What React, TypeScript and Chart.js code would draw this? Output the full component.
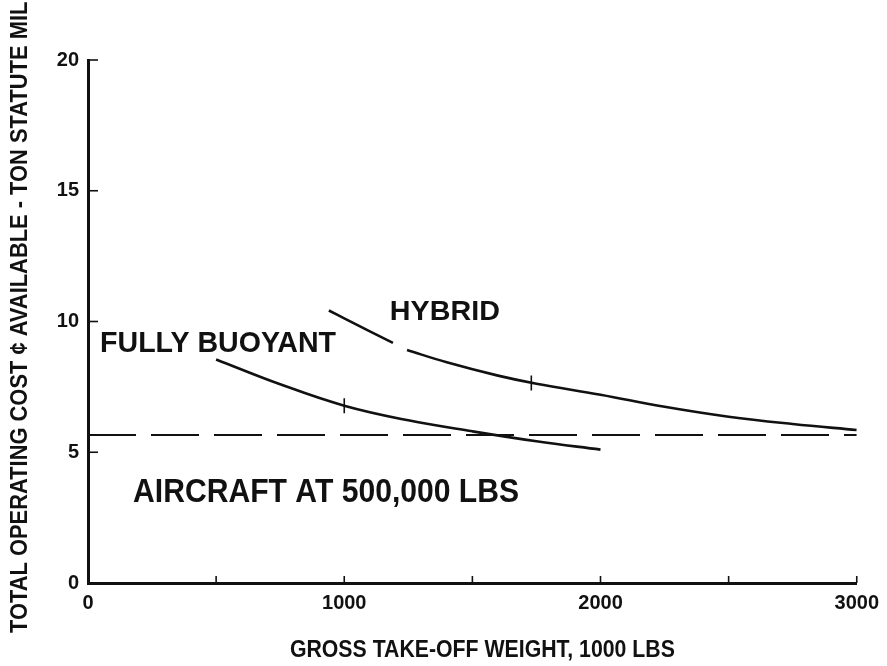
import React, { useEffect, useRef } from 'react';
import { Chart, registerables } from 'chart.js';

Chart.register(...registerables);

// ---- data ----
const weightFullyBuoyant = [500, 750, 1000, 1250, 1500, 1750, 2000];
const costFullyBuoyant = [8.55, 7.6, 6.78, 6.22, 5.8, 5.42, 5.1];

const weightHybrid = [940, 1000, 1100, 1190, 1218, 1245, 1400, 1600, 1750, 2000, 2250, 2500, 2750, 3000];
const costHybrid = [10.42, 10.12, 9.62, 9.18, null, 8.91, 8.44, 7.93, 7.62, 7.2, 6.74, 6.36, 6.08, 5.85];

const weightAircraft = [0, 3000];
const costAircraft = [5.66, 5.66];

const markerWeights = [1000, 1730];
const markerCosts = [6.78, 7.65];

const xMin = 0;
const xMax = 3000;
const xStep = 500;
const xLabelStep = 1000;
const yMin = 0;
const yMax = 20;
const yStep = 5;

const xTitle = 'GROSS TAKE-OFF WEIGHT, 1000 LBS';
const yTitle = 'TOTAL OPERATING COST ¢ AVAILABLE - TON STATUTE MILE';
const labelFullyBuoyant = 'FULLY BUOYANT';
const labelHybrid = 'HYBRID';
const labelAircraft = 'AIRCRAFT AT 500,000 LBS';

// ---- styling ----
const FONT = '"Liberation Sans", Arial, Helvetica, sans-serif';
const INK = '#111111';

const toXY = (xs: number[], ys: (number | null)[]) => xs.map((x, i) => ({ x, y: ys[i] }));

function drawFitted(
  ctx: CanvasRenderingContext2D,
  text: string,
  x: number,
  y: number,
  size: number,
  width: number,
  align: CanvasTextAlign,
  rotate = 0
) {
  ctx.save();
  ctx.font = `bold ${size}px ${FONT}`;
  const w = ctx.measureText(text).width;
  const sx = width / w;
  ctx.translate(x, y);
  if (rotate) ctx.rotate(rotate);
  ctx.scale(sx, 1);
  ctx.textAlign = align;
  ctx.textBaseline = 'alphabetic';
  ctx.fillStyle = INK;
  ctx.fillText(text, 0, 0);
  ctx.restore();
}

const decorPlugin = {
  id: 'decor',
  afterDraw(chart: any) {
    const ctx: CanvasRenderingContext2D = chart.ctx;
    const xs = chart.scales.x;
    const ys = chart.scales.y;
    const area = chart.chartArea;
    ctx.save();
    ctx.strokeStyle = INK;
    ctx.lineWidth = 1.6;
    // inward tick marks on x axis
    for (let v = xMin + xStep; v <= xMax; v += xStep) {
      const px = xs.getPixelForValue(v);
      ctx.beginPath();
      ctx.moveTo(px, area.bottom);
      ctx.lineTo(px, area.bottom - 7);
      ctx.stroke();
    }
    // inward tick marks on y axis
    for (let v = yMin + yStep; v <= yMax; v += yStep) {
      const py = ys.getPixelForValue(v);
      ctx.beginPath();
      ctx.moveTo(area.left, py);
      ctx.lineTo(area.left + 10, py);
      ctx.stroke();
    }
    ctx.restore();

    // curve labels (anchored in data coordinates)
    drawFitted(ctx, labelFullyBuoyant, xs.getPixelForValue(47), ys.getPixelForValue(8.83), 30, 236, 'left');
    drawFitted(ctx, labelHybrid, xs.getPixelForValue(1178), ys.getPixelForValue(10.06), 28, 110, 'left');
    drawFitted(ctx, labelAircraft, xs.getPixelForValue(176), ys.getPixelForValue(3.1), 34, 386, 'left');

    // axis titles
    drawFitted(ctx, xTitle, (area.left + area.right) / 2 + 10, chart.height - 9, 23, 385, 'center');
    drawFitted(ctx, yTitle, 27, chart.height - 33, 23, 646, 'left', -Math.PI / 2);
  },
};

export default function App() {
  const canvasRef = useRef<HTMLCanvasElement | null>(null);

  useEffect(() => {
    document.body.style.margin = '0';
    const canvas = canvasRef.current;
    if (!canvas) return;

    const chart = new Chart(canvas, {
      type: 'line',
      data: {
        datasets: [
          {
            label: 'Fully buoyant',
            data: toXY(weightFullyBuoyant, costFullyBuoyant),
            borderColor: INK,
            borderWidth: 2.6,
            pointRadius: 0,
            tension: 0.4,
            fill: false,
          },
          {
            label: 'Hybrid',
            data: toXY(weightHybrid, costHybrid),
            borderColor: INK,
            borderWidth: 2.6,
            pointRadius: 0,
            tension: 0.4,
            spanGaps: false,
            fill: false,
          },
          {
            label: 'Aircraft at 500,000 lbs',
            data: toXY(weightAircraft, costAircraft),
            borderColor: INK,
            borderWidth: 2,
            borderDash: [48, 15],
            pointRadius: 0,
            fill: false,
          },
          {
            label: 'Markers',
            data: toXY(markerWeights, markerCosts),
            showLine: false,
            pointStyle: 'line',
            rotation: 90,
            pointRadius: 7.5,
            borderColor: INK,
            borderWidth: 1.6,
          },
        ],
      },
      options: {
        animation: false,
        responsive: false,
        layout: { padding: { top: 60, right: 30, left: 0, bottom: 0 } },
        plugins: {
          legend: { display: false },
          tooltip: { enabled: false },
          title: { display: false },
        },
        scales: {
          x: {
            type: 'linear',
            min: xMin,
            max: xMax,
            grid: { display: false, drawTicks: false },
            border: { display: true, color: INK, width: 3 },
            ticks: {
              stepSize: xStep,
              autoSkip: false,
              maxRotation: 0,
              padding: 8,
              color: INK,
              font: { family: FONT, size: 20, weight: 'bold' },
              callback: (v: any) => (Number(v) % xLabelStep === 0 ? String(v) : ''),
            },
            afterFit: (scale: any) => {
              scale.height = 83;
            },
          },
          y: {
            type: 'linear',
            min: yMin,
            max: yMax,
            grid: { display: false, drawTicks: false },
            border: { display: true, color: INK, width: 3 },
            ticks: {
              stepSize: yStep,
              padding: 9,
              color: INK,
              font: { family: FONT, size: 20, weight: 'bold' },
            },
            afterFit: (scale: any) => {
              scale.width = 88;
            },
          },
        },
      },
      plugins: [decorPlugin],
    });

    return () => chart.destroy();
  }, []);

  return (
    <div style={{ width: 887, height: 666, background: '#fff' }}>
      <canvas ref={canvasRef} width={887} height={666} style={{ display: 'block' }} />
    </div>
  );
}
